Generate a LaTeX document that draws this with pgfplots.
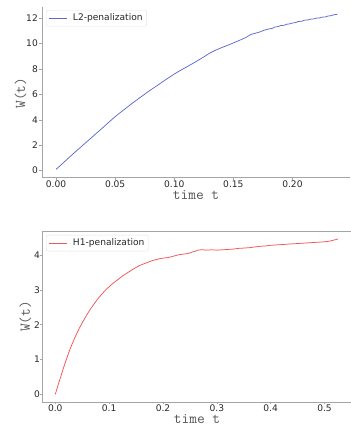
\documentclass[border=0pt]{standalone}
\usepackage{pgfplots}
\pgfplotsset{compat=1.18}
\usepackage{fontspec}
\setmainfont{DejaVu Sans}
\definecolor{lineblue}{RGB}{95,105,210}
\definecolor{linered}{RGB}{242,85,85}
\definecolor{spine}{RGB}{165,165,165}
\definecolor{ticktext}{RGB}{40,40,40}
\definecolor{labeltext}{RGB}{85,85,85}
\pgfplotsset{
  mystyle/.style={
    scale only axis,
    anchor=south west,
    /pgf/number format/assume math mode=true,
    tick align=outside,
    major tick length=3pt,
    tick style={spine, line width=0.6pt},
    axis line style={spine, line width=0.8pt},
    ticklabel style={font=\fontsize{9.1}{10}\selectfont, text=ticktext, inner sep=1pt},
    xtick pos=bottom, ytick pos=left,
    label style={font=\ttfamily\fontsize{15}{16}\selectfont, text=labeltext, inner sep=0pt},
    legend style={font=\fontsize{9.1}{10}\selectfont, draw=gray!22, rounded corners=2pt, inner xsep=2pt, inner ysep=1.8pt, nodes={inner sep=2pt}, text=ticktext},
    legend cell align=left,
    legend image code/.code={\draw[#1] (0pt,0pt) -- (18pt,0pt); \path (22pt,0pt);},
    every axis plot/.append style={line width=0.75pt},
  }
}
\begin{document}
\begin{tikzpicture}
\begin{axis}[mystyle,
  at={(42pt,250pt)}, width=308pt, height=170pt,
  axis x line*=bottom, axis y line*=left,
  xmin=-0.0119, xmax=0.2487, ymin=-0.5, ymax=12.88,
  xtick={0,0.05,0.1,0.15,0.2},
  xticklabels={0.00,0.05,0.10,0.15,0.20},
  ytick={0,2,4,6,8,10,12},
  xlabel={time t}, ylabel={W(t)},
  xlabel style={at={(axis description cs:0.5,0)}, anchor=center, yshift=-18.5pt},
  ylabel style={at={(axis description cs:-0.0698,0.494)}, anchor=center},
  legend style={at={(axis description cs:0.013,0.982)}, anchor=north west},
]
\addplot[lineblue] coordinates {
(0,0.1) (0.005,0.52) (0.01,0.95) (0.015,1.37) (0.02,1.78) (0.025,2.19) (0.03,2.6) (0.035,3.01) (0.04,3.42) (0.045,3.84) (0.05,4.25)
(0.055,4.62) (0.06,4.98) (0.065,5.34) (0.07,5.68) (0.075,6.02) (0.08,6.35) (0.085,6.66) (0.09,6.98) (0.095,7.3) (0.1,7.6)
(0.105,7.88) (0.11,8.14) (0.115,8.4) (0.12,8.67) (0.125,8.95) (0.13,9.25) (0.135,9.48) (0.14,9.68) (0.145,9.86) (0.15,10.05)
(0.155,10.25) (0.16,10.45) (0.163,10.62) (0.165,10.72) (0.168,10.8) (0.17,10.85) (0.173,10.93) (0.175,11.02) (0.178,11.1) (0.18,11.15)
(0.183,11.2) (0.185,11.3) (0.188,11.34) (0.19,11.42) (0.193,11.44) (0.195,11.52) (0.198,11.56) (0.2,11.62) (0.203,11.66) (0.205,11.74)
(0.208,11.76) (0.21,11.84) (0.213,11.86) (0.215,11.92) (0.218,11.94) (0.22,12.0) (0.223,12.02) (0.225,12.08) (0.228,12.1) (0.23,12.17)
(0.233,12.2) (0.235,12.27) (0.238,12.3)
};
\addlegendentry{L2-penalization}
\end{axis}
\begin{axis}[mystyle,
  at={(42pt,25pt)}, width=310pt, height=171pt,
  major tick length=2pt,
  xmin=-0.0247, xmax=0.551, ymin=-0.22, ymax=4.69,
  xtick={0,0.1,0.2,0.3,0.4,0.5},
  xticklabels={0.0,0.1,0.2,0.3,0.4,0.5},
  ytick={0,1,2,3,4},
  yticklabel style={xshift=1pt},
  xlabel={time t}, ylabel={W(t)},
  xlabel style={at={(axis description cs:0.5,0)}, anchor=center, yshift=-17pt},
  ylabel style={at={(axis description cs:-0.0539,0.5)}, anchor=center},
  legend style={at={(axis description cs:0.013,0.977)}, anchor=north west},
]
\addplot[linered] coordinates {
(0,0) (0.005,0.26) (0.01,0.5) (0.015,0.75) (0.02,0.98) (0.025,1.2) (0.03,1.4) (0.035,1.58) (0.04,1.75) (0.045,1.91) (0.05,2.05)
(0.055,2.19) (0.06,2.32) (0.065,2.44) (0.07,2.55) (0.075,2.66) (0.08,2.76) (0.085,2.85) (0.09,2.94) (0.095,3.02) (0.1,3.09)
(0.105,3.16) (0.11,3.22) (0.115,3.28) (0.12,3.34) (0.125,3.4) (0.13,3.45) (0.135,3.5) (0.14,3.55) (0.145,3.6) (0.15,3.64)
(0.155,3.69) (0.16,3.72) (0.165,3.75) (0.17,3.78) (0.175,3.81) (0.18,3.84) (0.185,3.86) (0.19,3.88) (0.195,3.9) (0.2,3.91)
(0.205,3.92) (0.21,3.93) (0.215,3.95) (0.22,3.97) (0.225,3.99) (0.23,4.01) (0.235,4.02) (0.24,4.03) (0.245,4.04) (0.25,4.06)
(0.255,4.09) (0.26,4.11) (0.265,4.14) (0.27,4.15) (0.275,4.15) (0.28,4.14) (0.29,4.15) (0.3,4.14) (0.31,4.15) (0.32,4.16)
(0.33,4.17) (0.34,4.19) (0.35,4.2) (0.36,4.21) (0.37,4.23) (0.38,4.25) (0.39,4.26) (0.4,4.28) (0.41,4.29) (0.42,4.3)
(0.43,4.31) (0.44,4.32) (0.45,4.33) (0.46,4.34) (0.47,4.35) (0.48,4.36) (0.49,4.37) (0.5,4.38) (0.505,4.39) (0.51,4.40)
(0.515,4.42) (0.52,4.44) (0.525,4.46)
};
\addlegendentry{H1-penalization}
\end{axis}
\pgfresetboundingbox
\path[use as bounding box] (0pt,0pt) rectangle (350pt,427pt);
\end{tikzpicture}
\end{document}
